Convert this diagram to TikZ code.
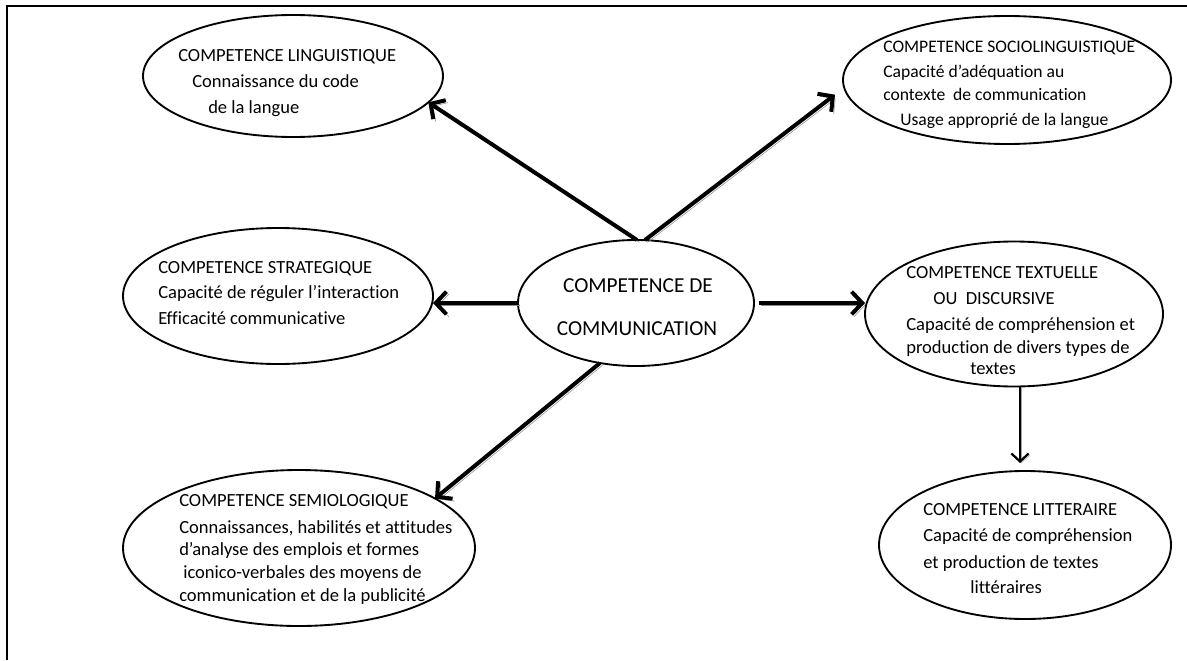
\documentclass[tikz,border=0pt]{standalone}
\usepackage{fontspec}
\setmainfont{Carlito}[Ligatures={NoCommon}]
\usetikzlibrary{arrows.meta,shapes.geometric,calc}
\begin{document}
\begin{tikzpicture}[x=0.75pt,y=-0.75pt,
  ell/.style={draw, ellipse, line width=1.4pt, inner sep=0pt, outer sep=0pt},
  txt/.style={anchor=base west, inner sep=0pt, font=\fontsize{13.9}{16}\selectfont},
  bigtxt/.style={anchor=base, inner sep=0pt, font=\fontsize{16}{19}\selectfont},
  arr/.style={line width=3pt, -{Straight Barb[length=8pt,width=17pt]},
    preaction={draw=black!45, transform canvas={shift={(1.8pt,-1.8pt)}}}},
  thinarr/.style={line width=1.7pt, -{Straight Barb[length=6pt,width=13pt]},
    preaction={draw=black!35, transform canvas={shift={(1pt,-1pt)}}}},
  frameline/.style={line width=0.9pt}]
\useasboundingbox (0,0) rectangle (1187,660);
\draw[frameline] (1187,6) -- (7,6) -- (7,660);

% ellipses
\node[ell, minimum width=225pt, minimum height=91.5pt] (ling) at (293,76) {};
\node[ell, minimum width=246pt, minimum height=96pt] (socio) at (1007,80) {};
\node[ell, minimum width=232.5pt, minimum height=102pt] (strat) at (278,296) {};
\node[ell, minimum width=177pt, minimum height=94.5pt] (cc) at (636,303) {};
\node[ell, minimum width=223.5pt, minimum height=108.75pt] (tex) at (1014,314) {};
\node[ell, minimum width=264pt, minimum height=117pt] (semio) at (299,548) {};
\node[ell, minimum width=219pt, minimum height=111pt] (litt) at (1025,545) {};

% texts: linguistique
\node[txt] (l1) at (178,61) {COMPETENCE LINGUISTIQUE};
\node[txt] (l2) at (192,88) {Connaissance du code};
\node[txt] (l3) at (208,113) {de la langue};
% sociolinguistique
\node[txt, font=\fontsize{13.2}{16}\selectfont] (s1) at (883,53) {COMPETENCE SOCIOLINGUISTIQUE};
\node[txt, font=\fontsize{13.2}{16}\selectfont] (s2) at (883,78) {Capacité d’adéquation au};
\node[txt, font=\fontsize{13.2}{16}\selectfont] (s3) at (883,100) {contexte\ \ de communication};
\node[txt, font=\fontsize{13.2}{16}\selectfont] (s4) at (900,125) {Usage approprié de la langue};
% strategique
\node[txt] (t1) at (158,273) {COMPETENCE STRATEGIQUE};
\node[txt] (t2) at (158,298) {Capacité de réguler l’interaction};
\node[txt] (t3) at (158,324) {Efficacité communicative};
% centre
\node[bigtxt] (c1) at (638,292) {COMPETENCE DE};
\node[bigtxt] (c2) at (637,335) {COMMUNICATION};
% textuelle
\node[txt] (x1) at (906,278) {COMPETENCE TEXTUELLE};
\node[txt] (x2) at (933,304) {OU\ \ DISCURSIVE};
\node[txt] (x3) at (906,330) {Capacité de compréhension et};
\node[txt] (x4) at (906,353) {production de divers types de};
\node[txt] (x5) at (970,374) {textes};
% semiologique
\node[txt] (m1) at (179,506) {COMPETENCE SEMIOLOGIQUE};
\node[txt] (m2) at (179,533) {Connaissances, habilités et attitudes};
\node[txt] (m3) at (179,555) {d’analyse des emplois et formes};
\node[txt] (m4) at (183,578) {iconico-verbales des moyens de};
\node[txt] (m5) at (179,601) {communication et de la publicité};
% litteraire
\node[txt] (r1) at (923,515) {COMPETENCE LITTERAIRE};
\node[txt] (r2) at (923,541) {Capacité de compréhension};
\node[txt] (r3) at (923,568) {et production de textes};
\node[txt] (r4) at (970,593) {littéraires};

% arrows
\draw[arr] ([xshift=0.75pt]cc.north) -- (ling.-11);
\draw[arr] ([xshift=6.75pt]cc.north) -- ([shift={(-6pt,-11pt)}]socio.west);
\draw[arr] (cc.west) -- (cc.west -| strat.east);
\draw[arr] ([xshift=3.75pt]cc.east) -- (cc.east -| tex.west);
\draw[arr] (cc.239) -- (semio.20);
\draw[thinarr] ([xshift=4.5pt]tex.south) -- ([shift={(-3.75pt,6pt)}]litt.north);
\end{tikzpicture}
\end{document}
